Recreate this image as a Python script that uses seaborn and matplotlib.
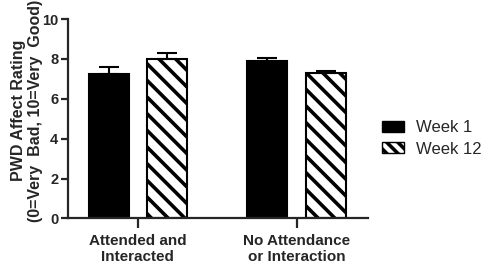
import numpy as np
import pandas as pd
import matplotlib
matplotlib.use("Agg")
import matplotlib.pyplot as plt
import seaborn as sns
from matplotlib.patches import Patch

# --- Datos ---
groups = ["Attended and\nInteracted", "No Attendance\nor Interaction"]
weeks = ["Week 1", "Week 12"]
week1_mean = [7.24, 7.91]
week12_mean = [7.98, 7.28]
week1_err = [0.34, 0.12]
week12_err = [0.33, 0.12]

df = pd.DataFrame({
    "group": groups * 2,
    "week": [weeks[0]] * 2 + [weeks[1]] * 2,
    "rating": week1_mean + week12_mean,
})

sns.set_style("ticks")
plt.rcParams["font.family"] = ["Liberation Sans", "DejaVu Sans"]
plt.rcParams["hatch.linewidth"] = 2.6

fig = plt.figure(figsize=(4.84, 2.66), dpi=100)
ax = fig.add_axes([0.1405, 0.179, 0.6195, 0.7495])

sns.barplot(data=df, x="group", y="rating", hue="week", order=groups,
            hue_order=weeks, palette=["black", "white"], width=0.74, gap=0.32,
            errorbar=None, edgecolor="black", linewidth=1.5, legend=False, ax=ax)

# hatch de la serie Week 12 + barras de error solo hacia arriba
errs = [week1_err, week12_err]
bar_conts = list(ax.containers)[:2]
for k, cont in enumerate(bar_conts):
    for j, bar in enumerate(cont.patches):
        if k == 1:
            bar.set_hatch("\\\\")
        xc = bar.get_x() + bar.get_width() / 2
        top = bar.get_height()
        ax.errorbar(xc, top, yerr=[[0], [errs[k][j]]], fmt="none",
                    ecolor="black", elinewidth=1.5, capsize=7, capthick=1.5,
                    zorder=1)

ax.set_ylim(0, 10)
ax.set_xlim(-0.44, 1.447)
ax.set_yticks([0, 2, 4, 6, 8, 10])
ax.set_xlabel("")
ax.set_ylabel("")
for s in ["left", "bottom"]:
    ax.spines[s].set_linewidth(1.6)
sns.despine(ax=ax)
ax.tick_params(axis="y", length=5, width=1.6, labelsize=10.5, pad=2)
ax.tick_params(axis="x", length=7, width=1.6, labelsize=11, pad=4)
for t in ax.get_xticklabels() + ax.get_yticklabels():
    t.set_fontweight("bold")

fig.text(0.056, 0.585, "PWD Affect Rating\n(0=Very  Bad, 10=Very  Good)",
         rotation=90, ha="center", va="center", multialignment="center",
         fontsize=11.5, fontweight="bold", linespacing=1.15)

handles = [Patch(facecolor="black", edgecolor="black", label=weeks[0]),
           Patch(facecolor="white", edgecolor="black", hatch="\\\\\\", label=weeks[1])]
fig.legend(handles=handles, loc="center left", bbox_to_anchor=(0.79, 0.48),
           frameon=False, fontsize=12, handlelength=1.32, handleheight=0.66,
           handletextpad=0.72, labelspacing=0.4, borderaxespad=0, borderpad=0)

fig.savefig("out.png", dpi=100)
